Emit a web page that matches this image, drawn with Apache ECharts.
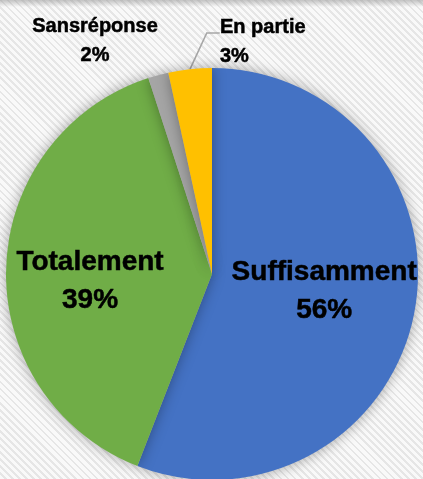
<!DOCTYPE html>
<html>
<head>
<meta charset="utf-8">
<script src="https://cdn.jsdelivr.net/npm/echarts@6/dist/echarts.min.js"></script>
<style>
  html, body { margin: 0; padding: 0; }
  body {
    width: 423px;
    height: 479px;
    overflow: hidden;
    background:
      linear-gradient(to bottom, rgba(150,150,150,0.55) 0px, rgba(200,200,200,0) 7px),
      repeating-linear-gradient(45deg, #f9f9f9 0px, #f9f9f9 3px, #e6e6e6 3px, #e6e6e6 5px);
  }
  #chart { width: 423px; height: 479px; }
</style>
</head>
<body>
<div id="chart"></div>
<script>
// réponses, dans l'ordre horaire depuis midi
const categories = ["Suffisamment", "Totalement", "Sansréponse", "En partie"];
const values = [55.9, 39.1, 1.6, 3.4];
const colors = ["#4472c4", "#70ad47", "#a5a5a5", "#ffc000"];

let myChart = echarts.init(document.getElementById("chart"));

let seriesData = categories.map((name, i) => {
  let item = {
    name: name,
    value: values[i],
    itemStyle: { color: colors[i] },
  };
  if (i < 2) {
    item.label = {
      position: "inside",
      fontSize: 28,
      lineHeight: 38,
    };
  } else {
    item.label = {
      position: "outside",
      fontSize: 20,
      lineHeight: 29,
    };
    if (i === 3) {
      // ligne vide en haut : la ligne de rappel arrive au niveau du nom
      item.label.formatter = (p) =>
        "{g| }\n{n|" + p.name + "}\n{n|" + Math.round(p.percent) + "%}";
      item.label.rich = {
        g: { lineHeight: 18, fontSize: 10 },
        n: { fontSize: 20, lineHeight: 29, fontWeight: "bold", fontFamily: "Liberation Sans", color: "#000" },
      };
    }
    item.labelLine = {
      show: i === 3,
      length: 20,
      length2: 13,
      lineStyle: { color: "#a6a6a6", width: 1.6 },
    };
  }
  return item;
});

let option = {
  backgroundColor: "transparent",
  animation: false,
  series: [
    {
      type: "pie",
      center: [212, 274],
      radius: 206,
      startAngle: 90,
      clockwise: true,
      avoidLabelOverlap: false,
      data: seriesData,
      itemStyle: {
        shadowBlur: 14,
        shadowColor: "rgba(0,0,0,0.35)",
      },
      label: {
        color: "#000",
        fontWeight: "bold",
        fontFamily: "Liberation Sans",
        align: "center",
        textBorderColor: "#000",
        textBorderWidth: 0.5,
        formatter: (p) => p.name + "\n" + Math.round(p.percent) + "%",
      },
      labelLayout: (p) => {
        if (p.dataIndex === 0) return { dx: 8, dy: -2 };
        if (p.dataIndex === 1) return { dx: -16, dy: 10 };
        if (p.dataIndex === 2) return { x: 95, y: 41, align: "center", verticalAlign: "middle" };
        return { x: 220, y: 33, align: "left", verticalAlign: "middle" };
      },
      emphasis: { disabled: true },
    },
  ],
};
myChart.setOption(option);
</script>
</body>
</html>
